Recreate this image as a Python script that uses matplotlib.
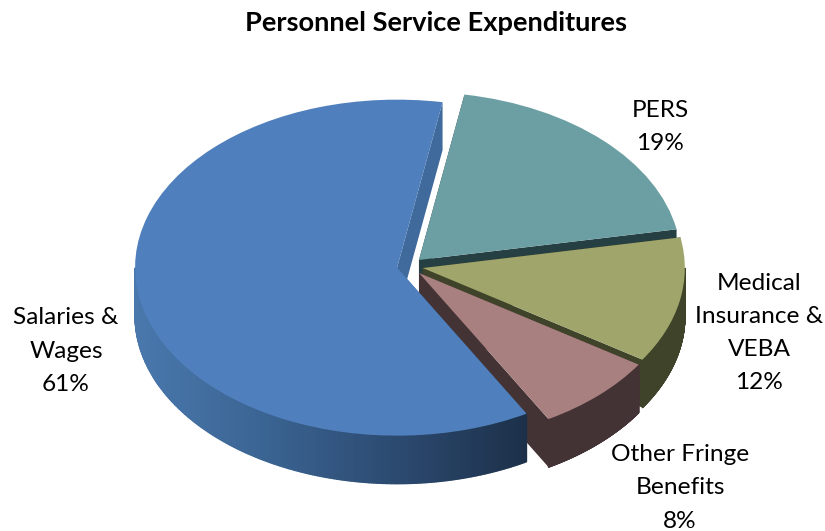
import numpy as np
import matplotlib
matplotlib.use("Agg")
import matplotlib.pyplot as plt
from matplotlib.collections import PolyCollection
from matplotlib.colors import LinearSegmentedColormap
from matplotlib.patches import Polygon
from matplotlib.transforms import Affine2D

plt.rcParams['font.family'] = ['Lato', 'DejaVu Sans']

title = "Personnel Service Expenditures"
categories = ["PERS", "Medical\nInsurance &\nVEBA", "Other Fringe\nBenefits", "Salaries &\nWages"]
shares = [19.3, 12.1, 7.6, 61.0]
explode = [0.053, 0.053, 0.055, 0.047]
top_colors = ["#6c9fa3", "#a0a66b", "#a8807f", "#4f7fbc"]
wall_colors = ["#263f42", "#3f4329", "#443335", "#3f6a9b"]
label_pos = [(660, 127), (759, 333), (680, 488), (66, 351)]

cx, cy = 409.2, 266.3
rx, ry = 262, 168
depth = 48

blue_rim = LinearSegmentedColormap.from_list(
    "rim", ["#4a78ad", "#3a6492", "#2c4a70", "#1c3049"])

fig = plt.figure(figsize=(8.25, 5.31), dpi=100)
ax = fig.add_axes([0, 0, 1, 1])
wedges, _ = ax.pie(shares, explode=explode, startangle=80, counterclock=False, radius=1)
ax.set_aspect('auto')
ax.set_xlim(0, 825)
ax.set_ylim(531, 0)
ax.axis('off')

flat = Affine2D().scale(rx, -ry).translate(cx, cy)


def rim_point(w, deg):
    # pixel position of a point on the wedge rim
    a = np.radians(deg)
    return flat.transform((w.center[0] + np.cos(a), w.center[1] + np.sin(a)))


z = 2
for i, w in enumerate(wedges):
    apex = flat.transform(w.center)
    lower = np.array([0, depth])

    # straight cut faces first, the rim and top go over them
    for deg in (w.theta1, w.theta2):
        p = rim_point(w, deg)
        ax.add_patch(Polygon([apex, p, p + lower, apex + lower], closed=True,
                             facecolor=wall_colors[i], edgecolor='none', zorder=z))
    z += 1

    # only the part of the rim that faces the viewer
    angs = np.linspace(w.theta1, w.theta2, 400)
    angs = angs[np.sin(np.radians(angs)) <= 0]
    if len(angs) > 1:
        pts = np.array([rim_point(w, a) for a in angs])
        quads = [[pts[k], pts[k + 1], pts[k + 1] + lower, pts[k] + lower] for k in range(len(pts) - 1)]
        if i == 3:
            cols = [blue_rim((q[0][0] - 135) / (527 - 135)) for q in quads]
        else:
            cols = [wall_colors[i]] * len(quads)
        ax.add_collection(PolyCollection(quads, facecolors=cols, edgecolors=cols,
                                         linewidths=1.0, zorder=z))
    z += 1

    w.set_transform(flat + ax.transData)
    w.set_facecolor(top_colors[i])
    w.set_zorder(z)
    w.set_clip_on(False)
    z += 1

for name, share, pos in zip(categories, shares, label_pos):
    ax.text(pos[0], pos[1], "%s\n%.0f%%" % (name, share), ha='center', va='center',
            fontsize=17.6, color='black', linespacing=1.72, zorder=50)

ax.text(436, 23, title, ha='center', va='center', fontsize=19.6,
        fontweight='bold', color='black', zorder=50)

fig.savefig("out.png", dpi=100, facecolor='white')
